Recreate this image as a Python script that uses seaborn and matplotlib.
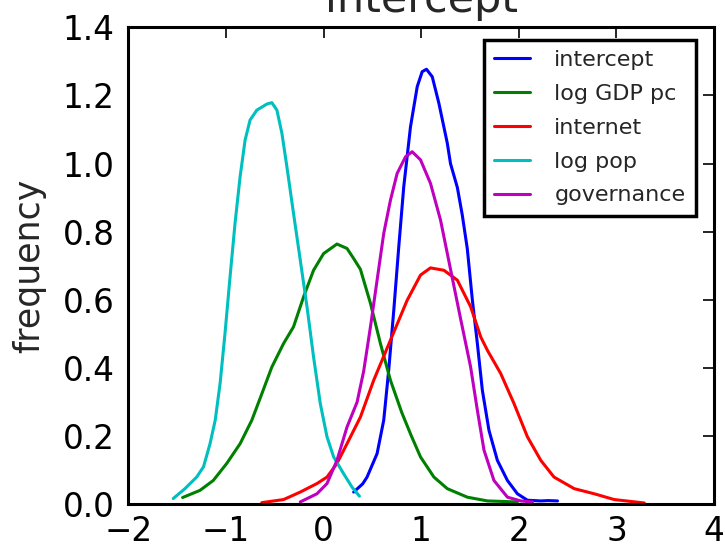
import numpy as np
import pandas as pd
import matplotlib
matplotlib.use("Agg")
import matplotlib.pyplot as plt
import seaborn as sns

# Density curves (x, density)
intercept_x = [0.308, 0.40, 0.445, 0.548, 0.616, 0.667, 0.719, 0.77, 0.821, 0.89, 0.959, 1.01, 1.054, 1.113, 1.181, 1.267, 1.30, 1.37, 1.42, 1.472, 1.524, 1.575, 1.626, 1.694, 1.78, 1.883, 1.985, 2.088, 2.225, 2.30, 2.396]
intercept_y = [0.036, 0.06, 0.080, 0.149, 0.247, 0.394, 0.570, 0.756, 0.932, 1.108, 1.226, 1.270, 1.277, 1.255, 1.177, 1.060, 1.000, 0.930, 0.850, 0.750, 0.599, 0.472, 0.335, 0.217, 0.129, 0.070, 0.031, 0.012, 0.010, 0.011, 0.010]

gdp_x = [-1.444, -1.266, -1.13, -0.992, -0.855, -0.735, -0.632, -0.53, -0.41, -0.308, -0.205, -0.103, 0.0, 0.137, 0.24, 0.30, 0.377, 0.48, 0.582, 0.685, 0.80, 0.90, 0.993, 1.13, 1.267, 1.472, 1.678, 1.985]
gdp_y = [0.020, 0.041, 0.070, 0.120, 0.178, 0.247, 0.325, 0.403, 0.472, 0.521, 0.609, 0.687, 0.736, 0.764, 0.751, 0.725, 0.690, 0.590, 0.472, 0.364, 0.270, 0.200, 0.139, 0.080, 0.046, 0.021, 0.010, 0.007]

internet_x = [-0.633, -0.41, -0.239, -0.068, 0.035, 0.137, 0.24, 0.377, 0.513, 0.685, 0.856, 0.993, 1.095, 1.232, 1.37, 1.506, 1.61, 1.678, 1.814, 1.95, 2.088, 2.225, 2.36, 2.567, 2.772, 2.977, 3.285]
internet_y = [0.005, 0.014, 0.036, 0.061, 0.080, 0.120, 0.178, 0.256, 0.364, 0.482, 0.599, 0.673, 0.694, 0.687, 0.658, 0.580, 0.491, 0.452, 0.384, 0.296, 0.198, 0.129, 0.080, 0.046, 0.031, 0.014, 0.004]

pop_x = [-1.54, -1.42, -1.30, -1.23, -1.163, -1.11, -1.06, -1.01, -0.958, -0.907, -0.855, -0.804, -0.753, -0.684, -0.58, -0.53, -0.478, -0.427, -0.376, -0.308, -0.239, -0.17, -0.103, -0.034, 0.035, 0.103, 0.205, 0.29, 0.367]
pop_y = [0.017, 0.046, 0.080, 0.110, 0.178, 0.247, 0.355, 0.501, 0.668, 0.825, 0.962, 1.069, 1.128, 1.157, 1.175, 1.179, 1.157, 1.089, 0.991, 0.854, 0.717, 0.580, 0.433, 0.296, 0.198, 0.139, 0.090, 0.051, 0.024]

gov_x = [-0.239, -0.068, 0.035, 0.137, 0.24, 0.343, 0.41, 0.48, 0.548, 0.616, 0.685, 0.753, 0.839, 0.907, 0.993, 1.095, 1.198, 1.30, 1.403, 1.506, 1.575, 1.643, 1.745, 1.883, 2.02, 2.14]
gov_y = [0.007, 0.031, 0.061, 0.129, 0.227, 0.300, 0.390, 0.521, 0.658, 0.795, 0.893, 0.971, 1.020, 1.035, 1.011, 0.942, 0.834, 0.690, 0.545, 0.403, 0.276, 0.159, 0.070, 0.021, 0.010, 0.007]

series_names = ["intercept", "log GDP pc", "internet", "log pop", "governance"]
series_colors = ["#0000ff", "#008000", "#ff0000", "#00bfbf", "#bf00bf"]

xticks = [-2, -1, 0, 1, 2, 3, 4]
yticks = [0.0, 0.2, 0.4, 0.6, 0.8, 1.0, 1.2, 1.4]

sns.set_style("white")
plt.rcParams["font.family"] = ["DejaVu Sans"]

fig = plt.figure(figsize=(7.25, 5.47), dpi=100)
ax = fig.add_axes([0.177, 0.078, 0.808, 0.872])

data = [(intercept_x, intercept_y), (gdp_x, gdp_y), (internet_x, internet_y),
        (pop_x, pop_y), (gov_x, gov_y)]
for (xs, ys), name, col in zip(data, series_names, series_colors):
    df = pd.DataFrame({"x": xs, "y": ys})
    sns.lineplot(data=df, x="x", y="y", sort=False, color=col, lw=2.2,
                 label=name, ax=ax)
for line in ax.get_lines():
    line.set_solid_joinstyle("round")

ax.set_xlim(-2, 4)
ax.set_ylim(0, 1.4)
ax.set_xticks(xticks)
ax.set_yticks(yticks)
ax.set_yticklabels([f"{v:.1f}" for v in yticks])
ax.set_xticklabels([str(v).replace("-", "\u2212") for v in xticks])
ax.set_xlabel("")
ax.set_ylabel("frequency", fontsize=25, labelpad=12)
ax.set_title("intercept", fontsize=31, pad=11)

ax.tick_params(direction="in", length=8, width=1.2, top=True, right=True,
               labelsize=23.5, pad=10, colors="black")
ax.tick_params(axis="x", pad=8)
for sp in ax.spines.values():
    sp.set_visible(True)
    sp.set_linewidth(2.2)
    sp.set_color("black")

leg = ax.legend(loc="upper right", fontsize=16, frameon=True, fancybox=False,
                handlelength=1.6, handletextpad=1.1, borderpad=0.48,
                borderaxespad=0.55, labelspacing=0.62,
                bbox_to_anchor=(0.99, 1.0))
leg.get_frame().set_edgecolor("black")
leg.get_frame().set_linewidth(2.5)
leg.get_frame().set_alpha(1.0)
for h in leg.get_lines():
    h.set_linewidth(2.2)

fig.savefig("out.png", dpi=100, facecolor="white")
